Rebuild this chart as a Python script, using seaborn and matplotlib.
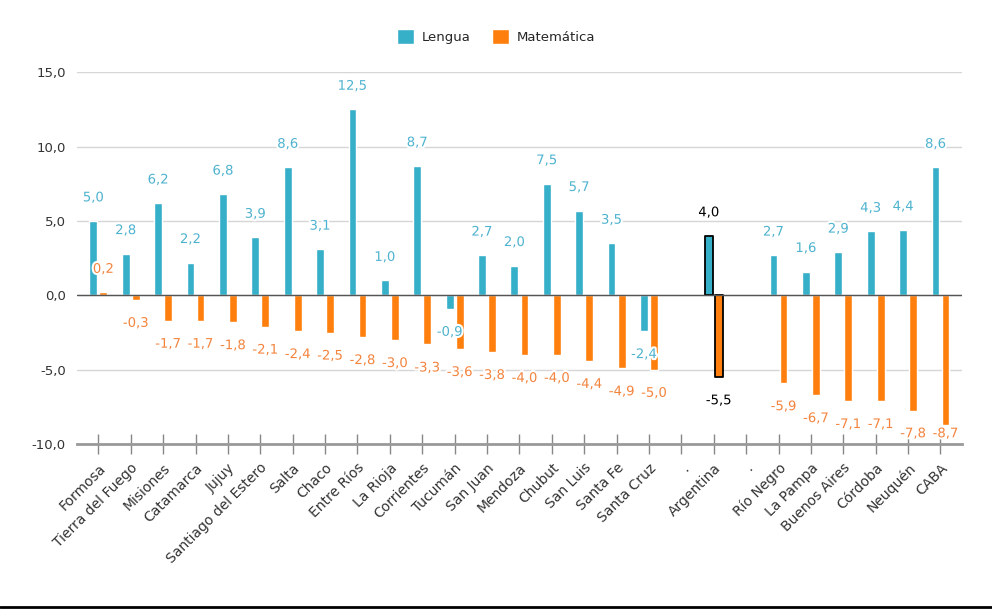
import numpy as np
import pandas as pd
import matplotlib
matplotlib.use("Agg")
import matplotlib.pyplot as plt
import matplotlib.patheffects as pe
from matplotlib.ticker import FuncFormatter
import seaborn as sns

# datos
provincias = ["Formosa", "Tierra del Fuego", "Misiones", "Catamarca", "Jujuy",
              "Santiago del Estero", "Salta", "Chaco", "Entre Ríos", "La Rioja",
              "Corrientes", "Tucumán", "San Juan", "Mendoza", "Chubut", "San Luis",
              "Santa Fe", "Santa Cruz", ".", "Argentina", " .", "Río Negro",
              "La Pampa", "Buenos Aires", "Córdoba", "Neuquén", "CABA"]
lengua = [5.0, 2.8, 6.2, 2.2, 6.8, 3.9, 8.6, 3.1, 12.5, 1.0, 8.7, -0.9, 2.7, 2.0,
          7.5, 5.7, 3.5, -2.4, np.nan, 4.0, np.nan, 2.7, 1.6, 2.9, 4.3, 4.4, 8.6]
matematica = [0.2, -0.3, -1.7, -1.7, -1.8, -2.1, -2.4, -2.5, -2.8, -3.0, -3.3, -3.6,
              -3.8, -4.0, -4.0, -4.4, -4.9, -5.0, np.nan, -5.5, np.nan, -5.9, -6.7,
              -7.1, -7.1, -7.8, -8.7]
materias = ["Lengua", "Matemática"]
destacado = "Argentina"

azul = "#36afc9"
naranja = "#ff7f0e"
azul_txt = "#4fb3cf"
naranja_txt = "#f3843e"

df = pd.DataFrame({
    "provincia": provincias * 2,
    "materia": [materias[0]] * len(provincias) + [materias[1]] * len(provincias),
    "valor": lengua + matematica,
})

sns.set_style("white")
plt.rcParams["font.family"] = ["DejaVu Sans"]

fig = plt.figure(figsize=(9.92, 6.11), dpi=100)
ax = fig.add_axes([0.0776, 0.273, 0.892, 0.609])

sns.barplot(data=df, x="provincia", y="valor", hue="materia", order=provincias,
            hue_order=materias, palette=[azul, naranja], width=0.62, gap=0.22,
            saturation=1, errorbar=None, ax=ax)

idx_dest = provincias.index(destacado)
for p in ax.patches:
    cx = p.get_x() + p.get_width() / 2
    if abs(cx - idx_dest) < 0.5:
        p.set_edgecolor("black")
        p.set_linewidth(1.3)
    p.set_joinstyle("round")

# etiquetas de valores
halo = [pe.withStroke(linewidth=3, foreground="white")]
for serie, desplaz, color in [(lengua, -0.155, azul_txt), (matematica, 0.155, naranja_txt)]:
    for i, v in enumerate(serie):
        if np.isnan(v):
            continue
        y = v + 1.55 if v >= 0 else max(v - 1.58, -9.3)
        c = "black" if provincias[i] == destacado else color
        ax.text(i + desplaz, y, f"{v:.1f}".replace(".", ","), ha="center", va="center",
                fontsize=9.5, color=c, path_effects=halo, zorder=5)

ax.set_ylim(-10, 15)
ax.set_xlim(-0.66, len(provincias) - 0.34)
ax.set_yticks([-10, -5, 0, 5, 10, 15])
ax.yaxis.set_major_formatter(FuncFormatter(lambda v, _: f"{v:.1f}".replace(".", ",")))
ax.yaxis.grid(True, color="#d6d6d6", linewidth=1)
ax.set_axisbelow(True)
ax.axhline(0, color="#555555", linewidth=1, zorder=3)

for s in ["top", "right", "left"]:
    ax.spines[s].set_visible(False)
ax.spines["bottom"].set_color("#999999")
ax.spines["bottom"].set_linewidth(2)

ax.tick_params(axis="y", left=False, length=0, labelsize=9.5, labelcolor="#333333", pad=8)
ax.tick_params(axis="x", bottom=True, direction="inout", length=14, width=1,
               color="#888888", labelsize=10, labelcolor="#333333", pad=5)
plt.setp(ax.get_xticklabels(), rotation=45, ha="right", rotation_mode="anchor")
ax.set_xlabel("")
ax.set_ylabel("")

sns.move_legend(ax, "center", bbox_to_anchor=(0.5, 0.94), bbox_transform=fig.transFigure,
                ncol=2, frameon=False, title=None, handlelength=1.3, handleheight=1.3,
                fontsize=9.5, columnspacing=1.6, handletextpad=0.6)

fig.add_artist(plt.Line2D([0, 1], [0.006, 0.006], color="black", linewidth=2))

fig.savefig("out.png", dpi=100, facecolor="white")
